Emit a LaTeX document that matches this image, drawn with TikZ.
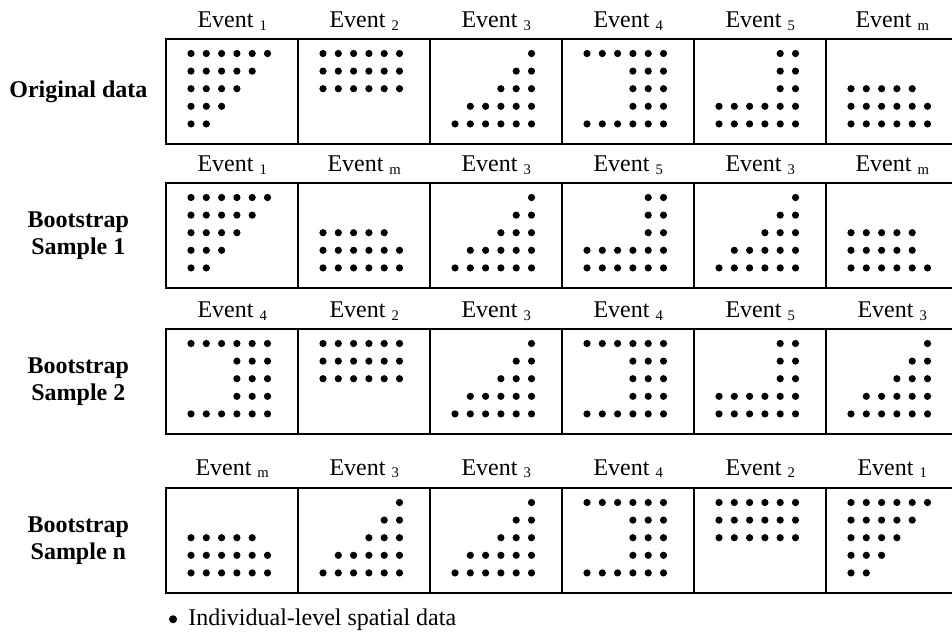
\documentclass[tikz,border=0pt]{standalone}
\usepackage{fontspec}
\setmainfont{Liberation Serif}
\usetikzlibrary{positioning}

% dot layouts: row/first column/last column
\newcommand\evOne{0/0/5,1/0/4,2/0/3,3/0/2,4/0/1}
\newcommand\evTwo{0/0/5,1/0/5,2/0/5}
\newcommand\evThree{0/5/5,1/4/5,2/3/5,3/1/5,4/0/5}
\newcommand\evFour{0/0/5,1/3/5,2/3/5,3/3/5,4/0/5}
\newcommand\evFive{0/4/5,1/4/5,2/4/5,3/0/5,4/0/5}
\newcommand\evM{2/0/4,3/0/5,4/0/5}
\newcommand\evMb{2/0/4,3/0/4,4/0/5}

\newcommand\evtext[1]{Event \raisebox{-2pt}{\fontsize{11}{11}\selectfont #1}}

\newcommand\spots[2]{%
  \edef\spotlist{#2}%
  \foreach \rr/\ca/\cb in \spotlist {
    \foreach \cc in {\ca,...,\cb}
      \fill ([shift={(26+15.3*\cc,15.5+17.6*\rr)}]#1.north west) circle (2.7pt);
  }}

\tikzset{
  panel/.style={draw, line width=1.8pt, minimum width=99pt, minimum height=78.75pt,
    inner sep=0pt, anchor=north west},
  evlabel/.style={font=\fontsize{18}{20}\selectfont, anchor=base},
  rowlabel/.style={font=\bfseries\fontsize{18}{20.25}\selectfont, align=center}
}

\begin{document}
\begin{tikzpicture}[x=0.75pt, y=-0.75pt]
  \useasboundingbox (0,0) rectangle (952,633);

  % original data
  \foreach \k/\sub/\pat in {0/1/\evOne,1/2/\evTwo,2/3/\evThree,3/4/\evFour,4/5/\evFive,5/m/\evM} {
    \node[panel] (a\k) at (165+132*\k,38) {};
    \node[evlabel] (la\k) at ([yshift=8pt]a\k.north) {\evtext{\sub}};
    \spots{a\k}{\pat}
  }
  \node[rowlabel] (ra) at ([xshift=-65pt]a0.west) {Original data};

  % bootstrap sample 1
  \foreach \k/\sub/\pat in {0/1/\evOne,1/m/\evM,2/3/\evThree,3/5/\evFive,4/3/\evThree,5/m/\evMb} {
    \node[panel] (b\k) at (165+132*\k,182) {};
    \node[evlabel] (lb\k) at ([yshift=8pt]b\k.north) {\evtext{\sub}};
    \spots{b\k}{\pat}
  }
  \node[rowlabel] (rb) at ([xshift=-65pt]b0.west) {Bootstrap\\Sample 1};

  % bootstrap sample 2
  \foreach \k/\sub/\pat in {0/4/\evFour,1/2/\evTwo,2/3/\evThree,3/4/\evFour,4/5/\evFive,5/3/\evThree} {
    \node[panel] (c\k) at (165+132*\k,328) {};
    \node[evlabel] (lc\k) at ([yshift=8pt]c\k.north) {\evtext{\sub}};
    \spots{c\k}{\pat}
  }
  \node[rowlabel] (rc) at ([xshift=-65pt]c0.west) {Bootstrap\\Sample 2};

  % bootstrap sample n
  \foreach \k/\sub/\pat in {0/m/\evM,1/3/\evThree,2/3/\evThree,3/4/\evFour,4/2/\evTwo,5/1/\evOne} {
    \node[panel] (d\k) at (165+132*\k,487) {};
    \node[evlabel] (ld\k) at ([yshift=9pt]d\k.north) {\evtext{\sub}};
    \spots{d\k}{\pat}
  }
  \node[rowlabel] (rd) at ([xshift=-65pt]d0.west) {Bootstrap\\Sample n};

  % legend
  \node[font=\fontsize{18}{20}\selectfont, anchor=base west, inner sep=0pt] (legend) at (188,625) {Individual-level spatial data};
  \node[circle, fill, inner sep=0pt, minimum size=6pt, left=8pt of legend] (bullet) {};
\end{tikzpicture}
\end{document}
